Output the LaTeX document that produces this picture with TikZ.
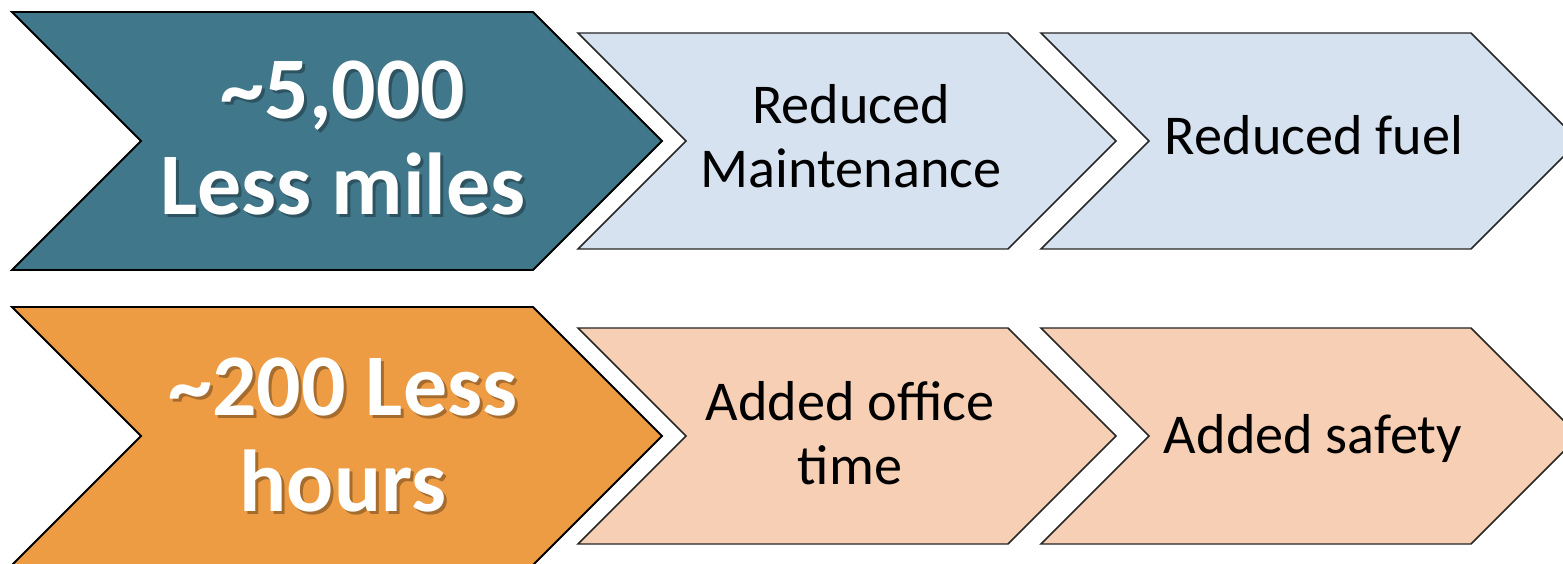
\documentclass[tikz,border=0pt]{standalone}
\usepackage{fontspec}
\setmainfont{Carlito}
\usetikzlibrary{positioning}
\definecolor{milesteal}{HTML}{41778A}
\definecolor{milesblue}{HTML}{D6E2EF}
\definecolor{hoursorange}{HTML}{EE9C43}
\definecolor{hourspeach}{HTML}{F7CFB4}

\begin{document}
\begin{tikzpicture}[x=0.02cm, y=-0.02cm,
    bigarrow/.style={draw=black, line width=1.1pt},
    smallarrow/.style={draw=black!85, line width=0.85pt},
    bigtext/.style={font=\fontsize{50}{54.6}\selectfont\bfseries, text=white, align=center, inner sep=0pt},
    shadowtext/.style={bigtext, text=black, text opacity=0.3},
    smalltext/.style={font=\fontsize{32}{36.4}\selectfont, align=center, inner sep=0pt}]
    \useasboundingbox (0,0) rectangle (1563,564);

    \draw[bigarrow, fill=milesteal] (12,12) -- (533,12) -- (662,141) -- (533,270) -- (12,270) -- (141,141) -- cycle;
    \draw[smallarrow, fill=milesblue] (578,33) -- (1008,33) -- (1116,141) -- (1008,249) -- (578,249) -- (686,141) -- cycle;
    \draw[smallarrow, fill=milesblue] (1041,33) -- (1471,33) -- (1579,141) -- (1471,249) -- (1041,249) -- (1149,141) -- cycle;

    \draw[bigarrow, fill=hoursorange] (12,307) -- (533,307) -- (662,436) -- (533,565) -- (12,565) -- (141,436) -- cycle;
    \draw[smallarrow, fill=hourspeach] (578,328) -- (1008,328) -- (1116,436) -- (1008,544) -- (578,544) -- (686,436) -- cycle;
    \draw[smallarrow, fill=hourspeach] (1041,328) -- (1471,328) -- (1579,436) -- (1471,544) -- (1041,544) -- (1149,436) -- cycle;

    \node[shadowtext] (milesshadow) at (346,141) {\char`~5,000\\Less miles};
    \node[bigtext] (miles) at (343,138) {\char`~5,000\\Less miles};
    \node[smalltext] (maintenance) at (851,136) {Reduced\\Maintenance};
    \node[smalltext, anchor=base] (fuel) at (1314,155) {Reduced fuel};

    \node[shadowtext] (hoursshadow) at (346,438) {\char`~200 Less\\hours};
    \node[bigtext] (hours) at (343,435) {\char`~200 Less\\hours};
    \node[smalltext] (office) at (850,433) {Added office\\time};
    \node[smalltext, anchor=base] (safety) at (1313,453) {Added safety};
\end{tikzpicture}
\end{document}
